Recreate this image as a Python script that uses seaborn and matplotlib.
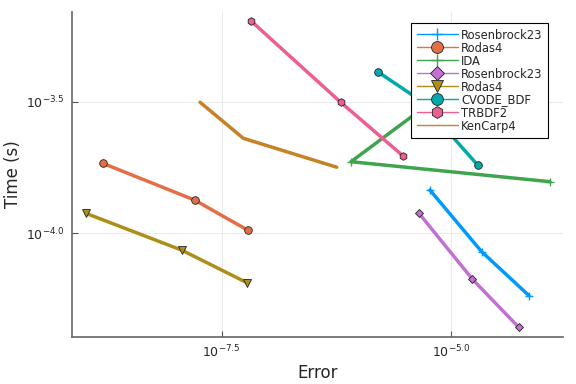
import numpy as np
import pandas as pd
import matplotlib
matplotlib.use("Agg")
import matplotlib.pyplot as plt
import seaborn as sns
from matplotlib.ticker import FixedLocator, FuncFormatter, NullLocator

# log10 values
names = ["Rosenbrock23", "Rodas4", "IDA", "Rosenbrock23", "Rodas4", "CVODE_BDF", "TRBDF2", "KenCarp4"]
log_err = [
    [-5.229, -4.666, -4.150],
    [-8.794, -7.792, -7.215],
    [-3.922, -6.089, -4.956],
    [-5.349, -4.768, -4.263],
    [-8.979, -7.934, -7.222],
    [-5.799, -5.338, -4.709],
    [-7.182, -6.202, -5.526],
    [-7.734, -7.263, -6.245],
]
log_time = [
    [-3.836, -4.070, -4.237],
    [-3.734, -3.874, -3.988],
    [-3.804, -3.728, -3.434],
    [-3.924, -4.174, -4.357],
    [-3.924, -4.064, -4.188],
    [-3.386, -3.494, -3.741],
    [-3.192, -3.502, -3.705],
    [-3.502, -3.639, -3.749],
]
colors = ["#009AFA", "#E36F47", "#3EA44E", "#C271D2", "#AC8E18", "#00A9AD", "#ED5E93", "#C68225"]
markers = ["+", "o", "+", "D", "v", "o", "h", None]
msizes = [6, 5.5, 6, 4.5, 5.5, 5.5, 5.5, 0]

sns.set_theme(style="white")
plt.rcParams['font.family'] = ['DejaVu Sans']

fig = plt.figure(figsize=(5.76, 3.84), dpi=100)
ax = fig.add_axes([0.1245, 0.1232, 0.9774 - 0.1245, 0.9695 - 0.1232])

for i, name in enumerate(names):
    df = pd.DataFrame({"Error": 10.0 ** np.array(log_err[i]),
                       "Time": 10.0 ** np.array(log_time[i])})
    kw = dict(color=colors[i], linewidth=2.5, label=name, sort=False, estimator=None, ax=ax)
    if markers[i] is not None:
        kw.update(marker=markers[i], markersize=msizes[i],
                  markeredgecolor="#222222" if markers[i] != "+" else colors[i],
                  markeredgewidth=0.6 if markers[i] != "+" else 1.0)
    sns.lineplot(data=df, x="Error", y="Time", **kw)

ax.set_xscale("log")
ax.set_yscale("log")
ax.set_xlim(10 ** -9.132, 10 ** -3.780)
ax.set_ylim(10 ** -4.393, 10 ** -3.158)

def fmt(v, pos):
    e = np.log10(v)
    return r"$10^{%.1f}$" % e

ax.xaxis.set_major_locator(FixedLocator([10 ** -7.5, 10 ** -5.0]))
ax.yaxis.set_major_locator(FixedLocator([10 ** -4.0, 10 ** -3.5]))
ax.xaxis.set_major_formatter(FuncFormatter(fmt))
ax.yaxis.set_major_formatter(FuncFormatter(fmt))
ax.xaxis.set_minor_locator(NullLocator())
ax.yaxis.set_minor_locator(NullLocator())

ax.grid(True, which="major", color="#e6e6e6", linewidth=0.6)
ax.tick_params(axis="both", which="major", direction="in", length=4, width=0.8,
               color="#555555", labelsize=9, left=True, bottom=True, pad=5)
for s in ["top", "right"]:
    ax.spines[s].set_visible(False)
for s in ["left", "bottom"]:
    ax.spines[s].set_color("#666666")
    ax.spines[s].set_linewidth(1.2)

ax.set_xlabel("Error", fontsize=12, labelpad=3)
ax.set_ylabel("Time (s)", fontsize=12, labelpad=3)

leg = ax.legend(loc="upper right", bbox_to_anchor=(0.970, 0.966), borderaxespad=0,
                fontsize=8.3, frameon=True, fancybox=False, edgecolor="black",
                framealpha=1, labelspacing=0.0, handlelength=3.5, handletextpad=0.3,
                borderpad=0.5, markerscale=1.55)
leg.get_frame().set_linewidth(0.8)
for h in leg.legend_handles:
    h.set_linewidth(1.0)

fig.savefig("out.png", dpi=100)
